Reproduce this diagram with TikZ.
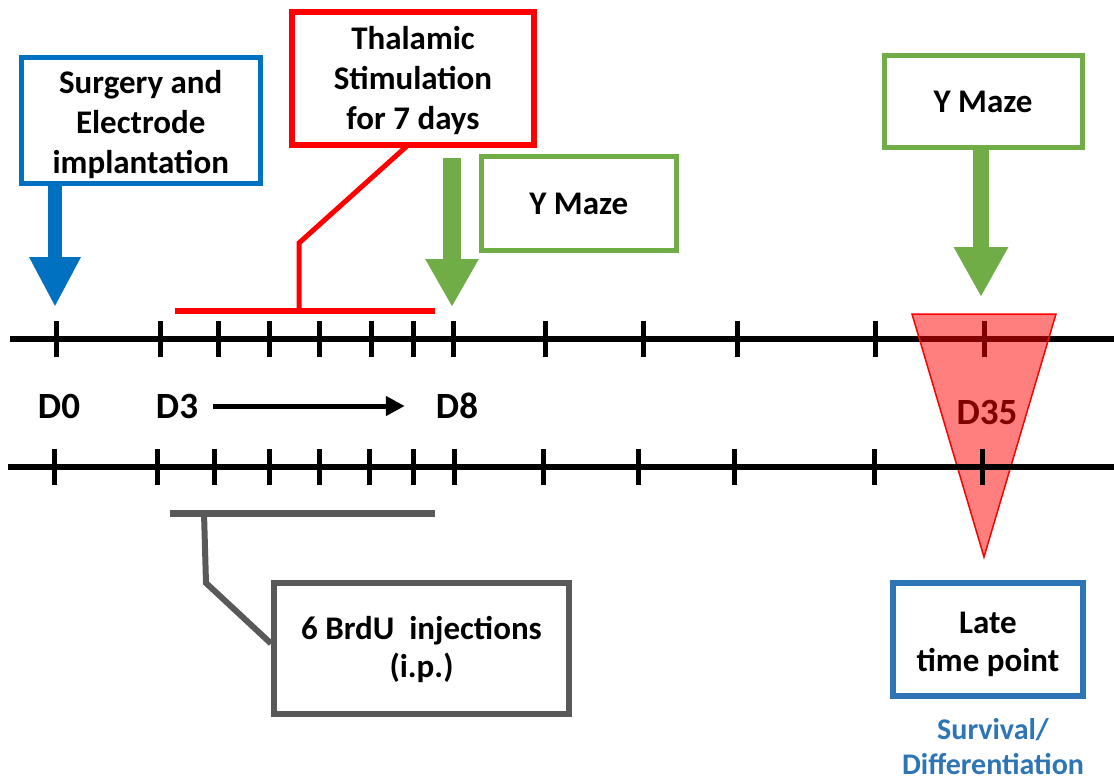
\documentclass[tikz,border=0pt]{standalone}
\usepackage{fontspec}
\setmainfont{Carlito}
\usetikzlibrary{arrows.meta,calc}
\definecolor{cblue}{HTML}{0070C0}
\definecolor{cred}{HTML}{FF0000}
\definecolor{cgreen}{HTML}{70AD47}
\definecolor{cgray}{HTML}{595959}
\definecolor{cblueb}{HTML}{2E75B6}
\newcommand\topstrut[1]{\rule{0pt}{#1}}
\begin{document}
\begin{tikzpicture}[x=1pt,y=-1pt,
  box/.style={draw, align=center, inner sep=0pt, font=\bfseries\fontsize{33}{40}\selectfont},
  axisline/.style={line width=6pt},
  tickline/.style={line width=5pt},
  dlabel/.style={font=\bfseries\fontsize{37}{42}\selectfont, inner sep=0pt}]
\useasboundingbox (0,0) rectangle (1114,781);

% boxes
\node[box, draw=cblue, line width=5pt, minimum width=238.5pt, minimum height=125pt] (surg) at (140.75,120.5) {\topstrut{31pt}Surgery and\\Electrode\\implantation};
\node[box, draw=cred, line width=6pt, minimum width=242.5pt, minimum height=133pt] (stim) at (413,78.5) {\topstrut{28pt}Thalamic\\Stimulation\\for 7 days};
\node[box, draw=cgreen, line width=5pt, minimum width=195.5pt, minimum height=93pt] (ym1) at (578.75,203.5) {Y Maze};
\node[box, draw=cgreen, line width=5pt, minimum width=198pt, minimum height=92pt] (ym2) at (983,102) {Y Maze};
\node[box, draw=cgray, line width=6pt, minimum width=295pt, minimum height=131pt, font=\bfseries\fontsize{33}{38}\selectfont] (brdu) at (421.5,648.5) {\topstrut{26pt}6 BrdU\ \ injections\\(i.p.)};
\node[box, draw=cblueb, line width=6pt, minimum width=190pt, minimum height=113pt, font=\bfseries\fontsize{33}{38}\selectfont] (late) at (988,639.5) {\topstrut{31pt}Late\\time point};
\node[align=center, text=cblueb, inner sep=0pt, font=\bfseries\fontsize{30}{35}\selectfont] (surv) at (993,747) {Survival/\\Differentiation};

% top axis
\coordinate (tl) at (10,339);
\coordinate (tr) at (1114,339);
\draw[axisline] (tl) -- (tr);
\foreach \x [count=\i] in {56,160,218,269,319,371,413,453,545,643,737,875,984} {
  \coordinate (T\i) at (\x,339);
  \draw[tickline] ([yshift=18pt]T\i) -- ([yshift=-18pt]T\i);
}

% day labels
\node[dlabel] (d0) at (59,406) {D0};
\node[dlabel] (d3) at (177,406) {D3};
\node[dlabel] (d8) at (457,406) {D8};
\node[dlabel] (d35) at (987,412) {D35};
\draw[line width=5pt, shorten <=15pt, shorten >=31pt, -{Triangle[length=19pt,width=19pt]}] (d3.east) -- (d8.west);

% late time point marker
\draw[cred, line width=1.5pt, fill=cred, fill opacity=0.5] (912,314) -- (1056,314) -- (984,557) -- cycle;

% bottom axis
\coordinate (bl) at (8,467);
\coordinate (br) at (1114,467);
\draw[axisline] (bl) -- (br);
\foreach \x [count=\i] in {54,157,214,269,319,369,413,454,543,638,734,874,982} {
  \coordinate (B\i) at (\x,467);
  \draw[tickline] ([yshift=18pt]B\i) -- ([yshift=-18pt]B\i);
}

% block arrows
\coordinate (tipB) at (55,307);
\draw[cblue, line width=14pt, -{Triangle[length=50pt,width=48pt]}] (surg.south -| tipB) -- (tipB);
\coordinate (g1top) at (452,158);
\coordinate (g1tip) at (452,307);
\draw[cgreen, line width=18pt, -{Triangle[length=48pt,width=50pt]}] (g1top) -- (g1tip);
\coordinate (g2tip) at (981,297);
\draw[cgreen, line width=16pt, -{Triangle[length=50pt,width=51pt]}] (ym2.south -| g2tip) -- (g2tip);

% stimulation bracket
\coordinate (rbL) at (175,311);
\coordinate (rbR) at (435,311);
\coordinate (rbM) at (299,311);
\draw[cred, line width=6pt] (rbL) -- (rbR);
\draw[cred, line width=5pt] ($(stim.south)+(-6,-2)$) -- ($(rbM)+(0,-68)$) -- (rbM);

% BrdU bracket
\coordinate (gbL) at (170,513);
\coordinate (gbR) at (435,513);
\coordinate (gbM) at (204,513);
\draw[cgray, line width=7pt] (gbL) -- (gbR);
\draw[cgray, line width=6pt] (gbM) -- ($(gbM)+(2,70)$) -- ($(brdu.west)+(0,-5)$);
\end{tikzpicture}
\end{document}
